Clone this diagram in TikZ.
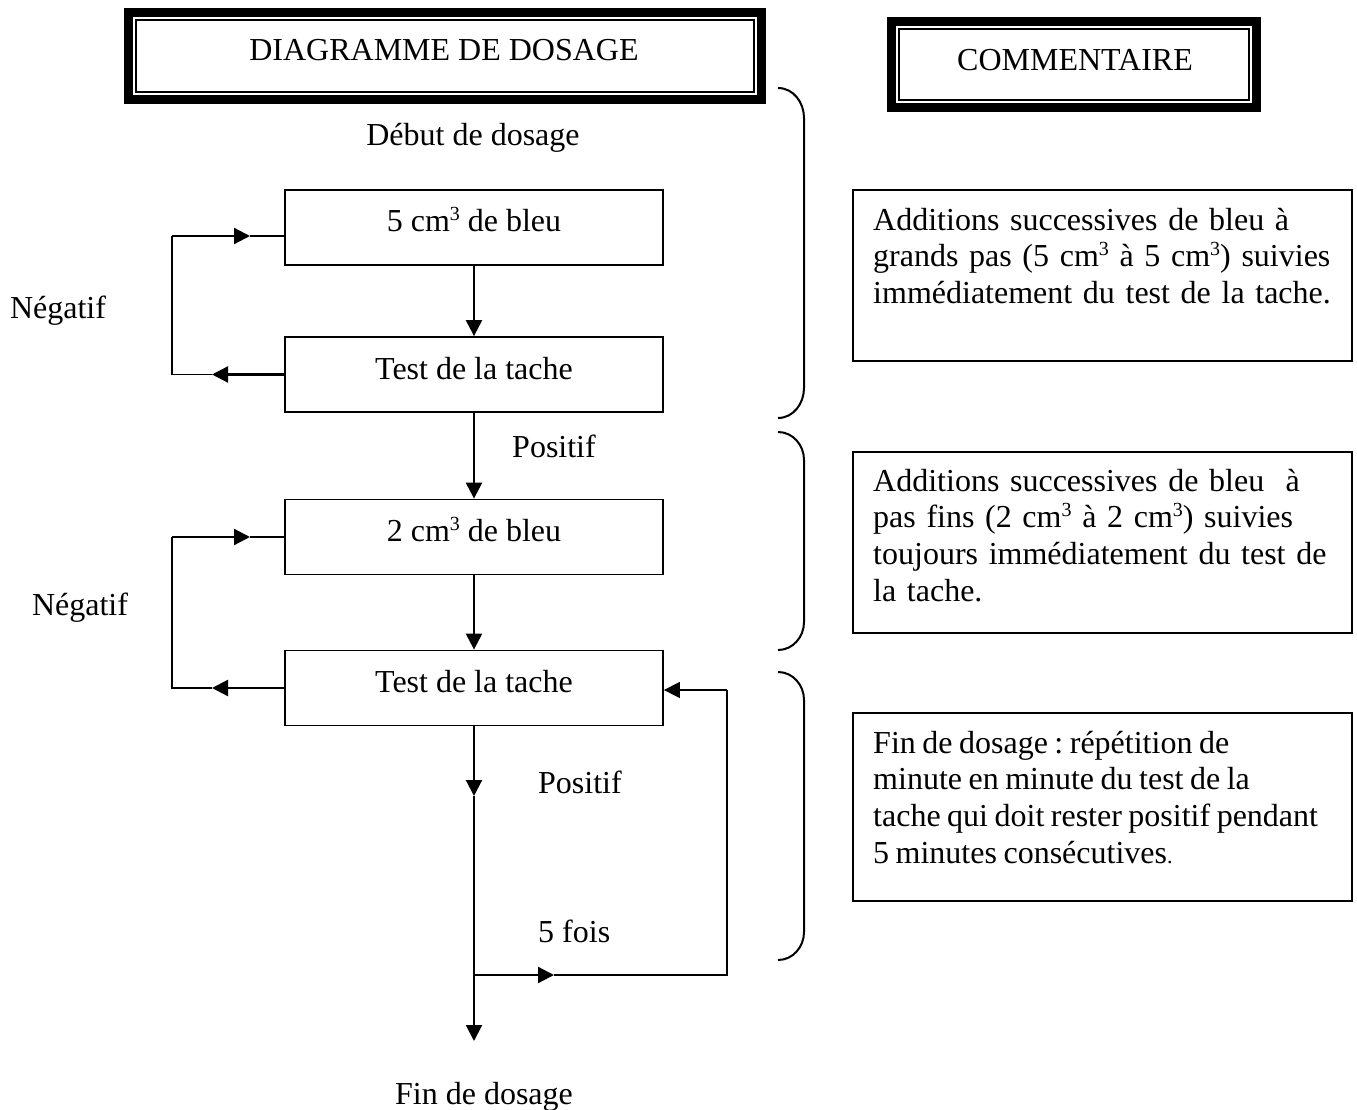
\documentclass[tikz,border=0pt]{standalone}
\usepackage{fontspec}
\setmainfont{Liberation Serif}
\usetikzlibrary{arrows.meta}
\frenchspacing
\newcommand{\cmsup}{\raisebox{11pt}{\fontsize{20}{20}\selectfont 3}}
\begin{document}
\begin{tikzpicture}[x=1pt,y=-1pt,
  every node/.style={font=\fontsize{32}{36.8}\selectfont},
  flowbox/.style={draw,line width=1.8pt,minimum width=378pt,minimum height=75pt,inner xsep=0pt,inner ysep=0pt,text height=42pt,text depth=33pt},
  txt/.style={anchor=base,inner sep=0pt},
  arr/.style={line width=2.2pt,-{Triangle[length=16pt,width=16pt]}},
  tarr/.style={line width=1.6pt,-{Triangle[length=16pt,width=16pt]}},
  thinl/.style={line width=1.6pt},
  brace/.style={line width=2pt},
  cbox/.style={line width=1.8pt},
  ctext/.style={anchor=base west,inner sep=0pt,text width=480pt,align=left}
]
\useasboundingbox (0,0) rectangle (1357,1110);

% title frames
\draw[line width=9pt] (128.5,12.5) rectangle (761.5,99.5);
\draw[line width=2pt] (136,20) rectangle (754,92);
\node[txt] (t1) at (444,61) {DIAGRAMME DE DOSAGE};
\draw[line width=9pt] (891.5,21.5) rectangle (1256.5,107.5);
\draw[line width=2pt] (899,29) rectangle (1249,100);
\node[txt] (t2) at (1075,71) {COMMENTAIRE};

% flow
\node[txt] (deb) at (473,146) {Début de dosage};
\node[flowbox] (A) at (474,227.5) {5 cm\cmsup{} de bleu};
\node[flowbox] (B) at (474,374.5) {Test de la tache};
\node[flowbox] (C) at (474,537) {2 cm\cmsup{} de bleu};
\node[flowbox] (D) at (474,688) {Test de la tache};

\draw[arr] (A.south) -- (B.north);
\draw[arr] (B.south) -- (C.north);
\draw[arr] (C.south) -- (D.north);
\node[txt] (pos1) at (554,457) {Positif};

% loop 1
\coordinate (l1t) at (172,236);
\coordinate (l1b) at (172,374.5);
\coordinate (m1t) at (250,236);
\coordinate (m1b) at (212,374.5);
\draw[arr] (l1t) -- (m1t);
\draw[thinl] (m1t) -- (A.west |- l1t);
\draw[arr] (B.west) -- (m1b);
\draw[thinl] (m1b) -- (l1b) -- (l1t);
\node[txt] (neg1) at (58,318) {Négatif};

% loop 2
\coordinate (l2t) at (172,537);
\coordinate (l2b) at (172,688);
\coordinate (m2t) at (250,537);
\coordinate (m2b) at (212,688);
\draw[arr] (l2t) -- (m2t);
\draw[thinl] (m2t) -- (C.west);
\draw[arr] (D.west) -- (m2b);
\draw[thinl] (m2b) -- (l2b) -- (l2t);
\node[txt] (neg2) at (80,615) {Négatif};

% bottom
\coordinate (m3) at (474,796);
\coordinate (br) at (474,975);
\coordinate (endp) at (474,1041);
\coordinate (m4) at (554,975);
\coordinate (rc) at (727,975);
\coordinate (rt) at (727,690);
\draw[arr] (D.south) -- (m3);
\draw[arr] (m3) -- (endp);
\draw[arr] (br) -- (m4);
\draw[thinl] (m4) -- (rc) -- (rt);
\draw[tarr] (rt) -- (D.east |- rt);
\node[txt,anchor=base west] (pos2) at (538,793) {Positif};
\node[txt,anchor=base west] (fois) at (538,942) {5 fois};
\node[txt] (fin) at (484,1104) {Fin de dosage};

% braces
\draw[brace] (778,88) to[out=0,in=90] (804,118) -- (804,388) to[out=-90,in=0] (778,418);
\draw[brace] (778,432) to[out=0,in=90] (804,460) -- (804,622) to[out=-90,in=0] (778,650);
\draw[brace] (778,672) to[out=0,in=90] (804,700) -- (804,932) to[out=-90,in=0] (778,960);

% comment boxes
\draw[cbox] (853,190) rectangle (1352,361);
\node[ctext] (c1) at (873,230) {\makebox[457pt][s]{Additions successives de bleu à}\\\makebox[457pt][s]{grands pas (5 cm\cmsup{} à 5 cm\cmsup{}) suivies}\\immédiatement du test de la tache.};
\draw[cbox] (853,452) rectangle (1352,633);
\node[ctext] (c2) at (873,491) {\makebox[457pt][s]{Additions successives de bleu \ à}\\\makebox[457pt][s]{pas fins (2 cm\cmsup{} à 2 cm\cmsup{}) suivies}\\\makebox[457pt][s]{toujours immédiatement du test de}\\la tache.};
\draw[cbox] (853,713) rectangle (1352,901);
\node[ctext] (c3) at (873,753) {\spaceskip=6.5pt\relax Fin de dosage : répétition de\\minute en minute du test de la\\tache qui doit rester positif pendant\\5 minutes consécutives{\fontsize{22}{22}\selectfont.}};
\end{tikzpicture}
\end{document}
